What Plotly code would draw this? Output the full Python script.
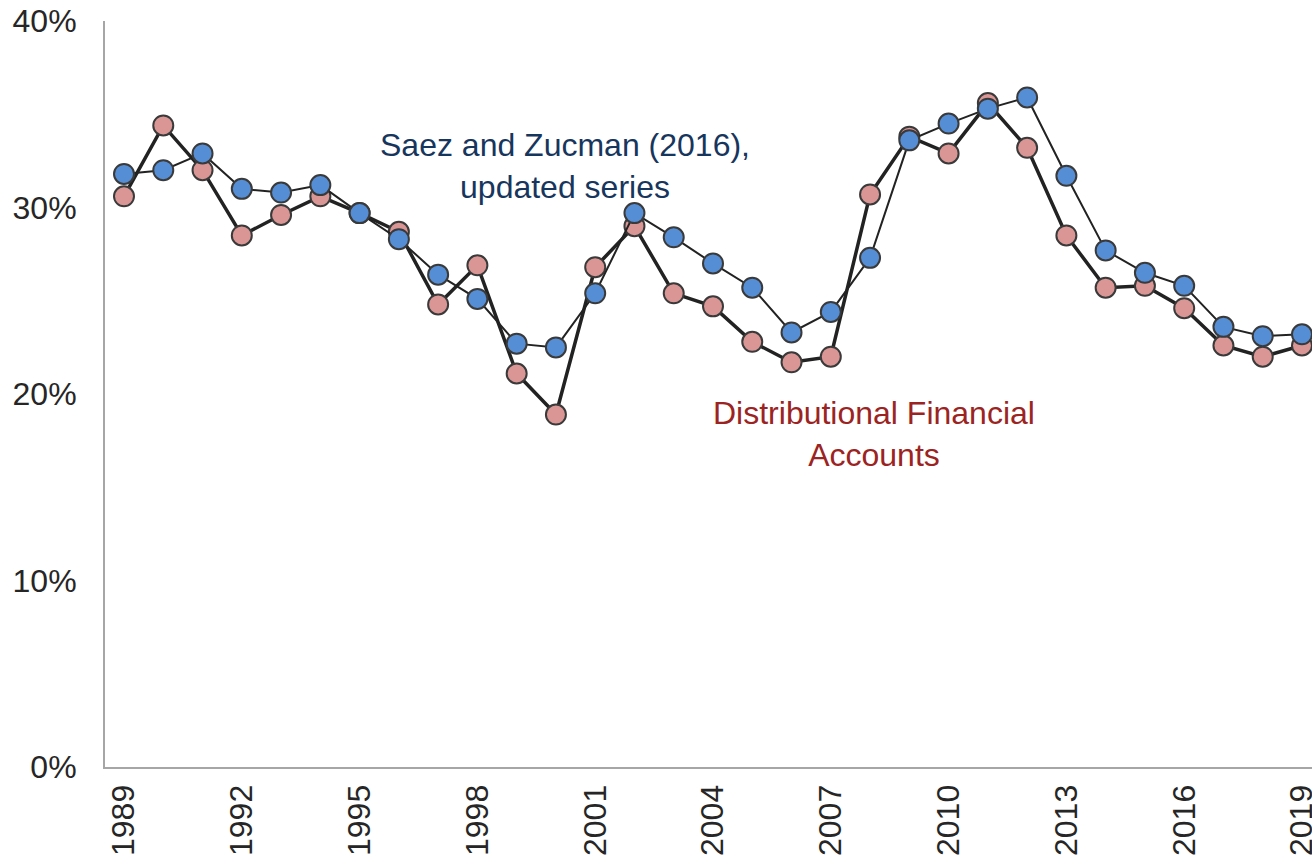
import plotly.graph_objects as go

years = list(range(1989, 2020))
dfa = [30.6, 34.4, 32.0, 28.5, 29.6, 30.6, 29.7, 28.7, 24.8, 26.9,
       21.1, 18.9, 26.8, 29.0, 25.4, 24.7, 22.8, 21.7, 22.0, 30.7,
       33.8, 32.9, 35.6, 33.2, 28.5, 25.7, 25.8, 24.6, 22.6, 22.0, 22.6]
sz = [31.8, 32.0, 32.9, 31.0, 30.8, 31.2, 29.7, 28.3, 26.4, 25.1,
      22.7, 22.5, 25.4, 29.7, 28.4, 27.0, 25.7, 23.3, 24.4, 27.3,
      33.6, 34.5, 35.3, 35.9, 31.7, 27.7, 26.5, 25.8, 23.6, 23.1, 23.2]
xticks = list(range(1989, 2020, 3))
yticks = [0, 10, 20, 30, 40]

font_family = "Liberation Sans, Arial, sans-serif"

fig = go.Figure()
fig.add_trace(go.Scatter(
    x=years, y=dfa, mode="lines+markers", name="Distributional Financial Accounts",
    line=dict(color="#222222", width=3.5),
    marker=dict(size=20, color="#D99694", line=dict(color="#3a3a3a", width=2)),
    cliponaxis=False,
))
fig.add_trace(go.Scatter(
    x=years, y=sz, mode="lines+markers", name="Saez and Zucman (2016), updated series",
    line=dict(color="#222222", width=2),
    marker=dict(size=20, color="#558ED5", line=dict(color="#3a3a3a", width=2)),
    cliponaxis=False,
))

fig.add_annotation(x=2000.23, y=32.2, xref="x", yref="y",
                   text="Saez and Zucman (2016),<br>updated series",
                   showarrow=False, align="center",
                   font=dict(family=font_family, size=32, color="#17365D"))
fig.add_annotation(x=2008.1, y=17.85, xref="x", yref="y",
                   text="Distributional Financial<br>Accounts",
                   showarrow=False, align="center",
                   font=dict(family=font_family, size=32, color="#9B2423"))

fig.update_layout(
    width=1312, height=859,
    margin=dict(l=105, r=0, t=21, b=92, autoexpand=False),
    paper_bgcolor="white", plot_bgcolor="white",
    showlegend=False,
    font=dict(family=font_family, size=32, color="#262626"),
)
fig.update_xaxes(
    range=[1988.516, 2019.255], tickmode="array", tickvals=xticks,
    ticktext=[str(v) for v in xticks], tickangle=-90,
    showgrid=False, zeroline=False, showline=True, linecolor="#A6A6A6", linewidth=2,
    ticks="", ticklabelstandoff=3, ticklabeloverflow="allow", automargin=False,
    tickfont=dict(family=font_family, size=32, color="#262626"),
)
fig.update_yaxes(
    range=[0, 40], tickmode="array", tickvals=yticks,
    ticktext=[f"{v}%" for v in yticks],
    showgrid=False, zeroline=False, showline=True, linecolor="#A6A6A6", linewidth=2,
    ticks="", ticklabelstandoff=20, ticklabeloverflow="allow", automargin=False,
    tickfont=dict(family=font_family, size=32, color="#262626"),
)

fig.write_html(
    "out.html",
    config={"displayModeBar": False},
    post_script="document.body.style.margin='0';document.body.style.overflow='hidden';"
                "document.documentElement.style.overflow='hidden';",
)
